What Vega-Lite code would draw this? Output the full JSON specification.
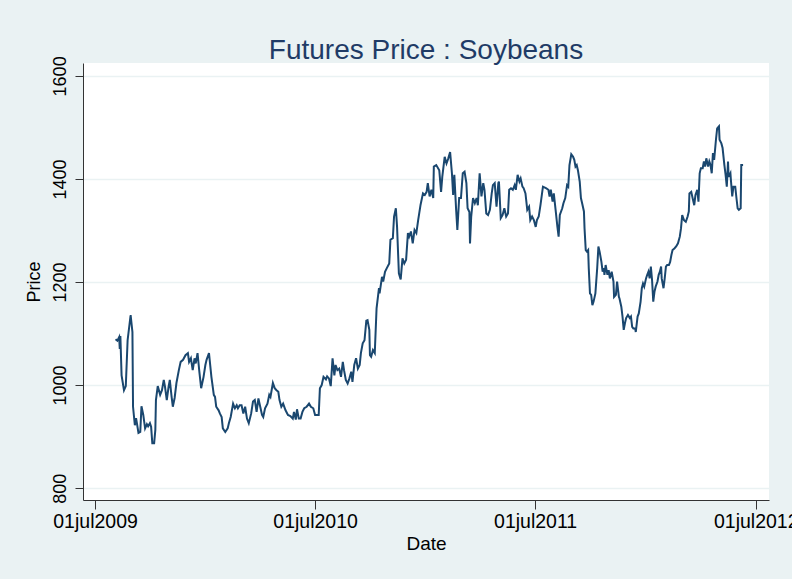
{
  "$schema": "https://vega.github.io/schema/vega-lite/v6.json",
  "width": 686,
  "height": 437,
  "autosize": {"type": "none"},
  "padding": {"left": 83, "top": 63, "right": 23, "bottom": 79},
  "background": "#EAF2F3",
  "title": {
    "text": "Futures Price : Soybeans",
    "fontSize": 28,
    "font": "Liberation Sans",
    "fontWeight": "normal",
    "color": "#1F3B66",
    "anchor": "middle",
    "baseline": "alphabetic",
    "offset": 6,
    "dy": 37
  },
  "config": {
    "view": {"fill": "white", "stroke": null},
    "axis": {"labelFont": "Liberation Sans", "titleFont": "Liberation Sans", "labelColor": "#000", "titleColor": "#000", "titleFontWeight": "normal", "domainColor": "#333", "tickColor": "#333", "domainWidth": 1, "tickWidth": 1}
  },
  "data": {"values": [
    {"date":"2009-08-04","price":1089},{"date":"2009-08-07","price":1086},{"date":"2009-08-10","price":1093},{"date":"2009-08-11","price":1070},{"date":"2009-08-12","price":1095},{"date":"2009-08-14","price":1019},{"date":"2009-08-18","price":990},{"date":"2009-08-21","price":998},{"date":"2009-08-24","price":1087},{"date":"2009-08-29","price":1136},
    {"date":"2009-09-01","price":1103},{"date":"2009-09-02","price":958},{"date":"2009-09-05","price":922},{"date":"2009-09-07","price":936},{"date":"2009-09-08","price":929},{"date":"2009-09-11","price":907},{"date":"2009-09-14","price":909},{"date":"2009-09-16","price":959},{"date":"2009-09-19","price":942},{"date":"2009-09-22","price":916},
    {"date":"2009-09-25","price":924},{"date":"2009-09-27","price":920},{"date":"2009-09-30","price":926},{"date":"2009-10-02","price":919},{"date":"2009-10-04","price":887},{"date":"2009-10-07","price":887},{"date":"2009-10-09","price":913},{"date":"2009-10-10","price":971},{"date":"2009-10-13","price":998},{"date":"2009-10-17","price":981},
    {"date":"2009-10-20","price":990},{"date":"2009-10-23","price":1010},{"date":"2009-10-25","price":997},{"date":"2009-10-28","price":971},{"date":"2009-10-31","price":997},{"date":"2009-11-02","price":1010},{"date":"2009-11-05","price":977},{"date":"2009-11-07","price":958},{"date":"2009-11-10","price":975},{"date":"2009-11-13","price":1004},
    {"date":"2009-11-17","price":1029},{"date":"2009-11-20","price":1045},{"date":"2009-11-24","price":1049},{"date":"2009-11-28","price":1058},{"date":"2009-12-02","price":1062},{"date":"2009-12-04","price":1045},{"date":"2009-12-07","price":1052},{"date":"2009-12-10","price":1029},{"date":"2009-12-13","price":1052},{"date":"2009-12-15","price":1042},
    {"date":"2009-12-18","price":1062},{"date":"2009-12-21","price":1026},{"date":"2009-12-24","price":994},{"date":"2009-12-28","price":1016},{"date":"2009-12-31","price":1039},{"date":"2010-01-02","price":1049},{"date":"2010-01-06","price":1062},{"date":"2010-01-10","price":1016},{"date":"2010-01-14","price":981},{"date":"2010-01-16","price":977},
    {"date":"2010-01-18","price":958},{"date":"2010-01-22","price":951},{"date":"2010-01-24","price":945},{"date":"2010-01-27","price":938},{"date":"2010-01-29","price":916},{"date":"2010-02-02","price":909},{"date":"2010-02-06","price":916},{"date":"2010-02-08","price":926},{"date":"2010-02-11","price":938},{"date":"2010-02-15","price":964},
    {"date":"2010-02-18","price":955},{"date":"2010-02-21","price":961},{"date":"2010-02-23","price":955},{"date":"2010-02-26","price":961},{"date":"2010-03-01","price":961},{"date":"2010-03-04","price":945},{"date":"2010-03-07","price":958},{"date":"2010-03-10","price":935},{"date":"2010-03-13","price":926},{"date":"2010-03-17","price":945},
    {"date":"2010-03-20","price":968},{"date":"2010-03-23","price":971},{"date":"2010-03-26","price":948},{"date":"2010-03-29","price":974},{"date":"2010-04-01","price":958},{"date":"2010-04-04","price":942},{"date":"2010-04-06","price":938},{"date":"2010-04-09","price":955},{"date":"2010-04-13","price":964},{"date":"2010-04-16","price":981},
    {"date":"2010-04-18","price":977},{"date":"2010-04-22","price":1004},{"date":"2010-04-25","price":994},{"date":"2010-04-28","price":990},{"date":"2010-05-01","price":987},{"date":"2010-05-03","price":971},{"date":"2010-05-06","price":958},{"date":"2010-05-09","price":964},{"date":"2010-05-13","price":951},{"date":"2010-05-17","price":942},
    {"date":"2010-05-21","price":940},{"date":"2010-05-25","price":935},{"date":"2010-05-27","price":948},{"date":"2010-05-30","price":933},{"date":"2010-06-01","price":953},{"date":"2010-06-04","price":935},{"date":"2010-06-07","price":935},{"date":"2010-06-10","price":948},{"date":"2010-06-13","price":955},{"date":"2010-06-17","price":958},
    {"date":"2010-06-21","price":964},{"date":"2010-06-24","price":958},{"date":"2010-06-28","price":955},{"date":"2010-07-01","price":942},{"date":"2010-07-04","price":942},{"date":"2010-07-07","price":942},{"date":"2010-07-09","price":994},{"date":"2010-07-12","price":1000},{"date":"2010-07-15","price":1016},{"date":"2010-07-19","price":1011},
    {"date":"2010-07-21","price":1017},{"date":"2010-07-24","price":1013},{"date":"2010-07-27","price":998},{"date":"2010-07-30","price":1052},{"date":"2010-08-02","price":1019},{"date":"2010-08-04","price":1039},{"date":"2010-08-07","price":1029},{"date":"2010-08-10","price":1032},{"date":"2010-08-13","price":1016},{"date":"2010-08-16","price":1045},
    {"date":"2010-08-18","price":1029},{"date":"2010-08-21","price":1010},{"date":"2010-08-24","price":1003},{"date":"2010-08-27","price":1013},{"date":"2010-08-30","price":1026},{"date":"2010-09-01","price":1006},{"date":"2010-09-04","price":1039},{"date":"2010-09-07","price":1052},{"date":"2010-09-10","price":1032},{"date":"2010-09-13","price":1039},
    {"date":"2010-09-15","price":1062},{"date":"2010-09-18","price":1081},{"date":"2010-09-21","price":1087},{"date":"2010-09-24","price":1125},{"date":"2010-09-26","price":1126},{"date":"2010-09-29","price":1107},{"date":"2010-09-30","price":1058},{"date":"2010-10-02","price":1055},{"date":"2010-10-05","price":1068},{"date":"2010-10-08","price":1062},
    {"date":"2010-10-11","price":1149},{"date":"2010-10-15","price":1188},{"date":"2010-10-16","price":1178},{"date":"2010-10-20","price":1210},{"date":"2010-10-22","price":1201},{"date":"2010-10-25","price":1220},{"date":"2010-10-28","price":1227},{"date":"2010-11-01","price":1236},{"date":"2010-11-03","price":1282},{"date":"2010-11-07","price":1285},
    {"date":"2010-11-09","price":1327},{"date":"2010-11-12","price":1343},{"date":"2010-11-14","price":1307},{"date":"2010-11-17","price":1217},{"date":"2010-11-20","price":1205},{"date":"2010-11-23","price":1246},{"date":"2010-11-26","price":1236},{"date":"2010-11-29","price":1243},{"date":"2010-12-02","price":1295},{"date":"2010-12-04","price":1288},
    {"date":"2010-12-07","price":1298},{"date":"2010-12-10","price":1275},{"date":"2010-12-13","price":1301},{"date":"2010-12-16","price":1295},{"date":"2010-12-19","price":1320},{"date":"2010-12-23","price":1350},{"date":"2010-12-27","price":1372},{"date":"2010-12-30","price":1369},{"date":"2011-01-02","price":1375},{"date":"2011-01-04","price":1392},
    {"date":"2011-01-07","price":1366},{"date":"2011-01-10","price":1379},{"date":"2011-01-13","price":1363},{"date":"2011-01-14","price":1424},{"date":"2011-01-18","price":1427},{"date":"2011-01-23","price":1417},{"date":"2011-01-26","price":1375},{"date":"2011-01-28","price":1404},{"date":"2011-02-01","price":1443},{"date":"2011-02-04","price":1430},
    {"date":"2011-02-07","price":1440},{"date":"2011-02-10","price":1452},{"date":"2011-02-13","price":1411},{"date":"2011-02-15","price":1369},{"date":"2011-02-17","price":1408},{"date":"2011-02-20","price":1340},{"date":"2011-02-22","price":1301},{"date":"2011-02-25","price":1363},{"date":"2011-02-28","price":1363},{"date":"2011-03-03","price":1411},
    {"date":"2011-03-06","price":1414},{"date":"2011-03-09","price":1392},{"date":"2011-03-11","price":1343},{"date":"2011-03-14","price":1336},{"date":"2011-03-15","price":1275},{"date":"2011-03-17","price":1327},{"date":"2011-03-20","price":1363},{"date":"2011-03-23","price":1353},{"date":"2011-03-26","price":1363},{"date":"2011-03-28","price":1349},
    {"date":"2011-03-31","price":1411},{"date":"2011-04-03","price":1366},{"date":"2011-04-06","price":1392},{"date":"2011-04-08","price":1379},{"date":"2011-04-11","price":1333},{"date":"2011-04-14","price":1330},{"date":"2011-04-17","price":1340},{"date":"2011-04-20","price":1372},{"date":"2011-04-22","price":1388},{"date":"2011-04-25","price":1392},
    {"date":"2011-04-28","price":1346},{"date":"2011-05-01","price":1392},{"date":"2011-05-02","price":1395},{"date":"2011-05-05","price":1324},{"date":"2011-05-08","price":1330},{"date":"2011-05-11","price":1343},{"date":"2011-05-14","price":1327},{"date":"2011-05-17","price":1333},{"date":"2011-05-19","price":1379},{"date":"2011-05-22","price":1382},
    {"date":"2011-05-25","price":1379},{"date":"2011-05-28","price":1388},{"date":"2011-05-30","price":1379},{"date":"2011-06-02","price":1408},{"date":"2011-06-05","price":1395},{"date":"2011-06-07","price":1401},{"date":"2011-06-10","price":1385},{"date":"2011-06-12","price":1382},{"date":"2011-06-15","price":1372},{"date":"2011-06-18","price":1340},
    {"date":"2011-06-21","price":1346},{"date":"2011-06-23","price":1320},{"date":"2011-06-26","price":1327},{"date":"2011-06-29","price":1320},{"date":"2011-07-02","price":1307},{"date":"2011-07-04","price":1320},{"date":"2011-07-07","price":1327},{"date":"2011-07-10","price":1350},{"date":"2011-07-14","price":1385},{"date":"2011-07-19","price":1382},
    {"date":"2011-07-23","price":1379},{"date":"2011-07-25","price":1366},{"date":"2011-07-27","price":1379},{"date":"2011-07-30","price":1356},{"date":"2011-08-01","price":1372},{"date":"2011-08-04","price":1340},{"date":"2011-08-07","price":1307},{"date":"2011-08-09","price":1288},{"date":"2011-08-11","price":1330},{"date":"2011-08-15","price":1343},
    {"date":"2011-08-17","price":1353},{"date":"2011-08-20","price":1363},{"date":"2011-08-23","price":1388},{"date":"2011-08-25","price":1385},{"date":"2011-08-27","price":1427},{"date":"2011-08-30","price":1448},{"date":"2011-09-02","price":1443},{"date":"2011-09-04","price":1437},{"date":"2011-09-06","price":1424},{"date":"2011-09-08","price":1427},
    {"date":"2011-09-10","price":1417},{"date":"2011-09-13","price":1395},{"date":"2011-09-15","price":1363},{"date":"2011-09-17","price":1353},{"date":"2011-09-20","price":1337},{"date":"2011-09-21","price":1304},{"date":"2011-09-23","price":1262},{"date":"2011-09-25","price":1259},{"date":"2011-09-27","price":1262},{"date":"2011-09-28","price":1227},
    {"date":"2011-09-30","price":1178},{"date":"2011-10-02","price":1175},{"date":"2011-10-04","price":1155},{"date":"2011-10-06","price":1162},{"date":"2011-10-09","price":1178},{"date":"2011-10-12","price":1227},{"date":"2011-10-14","price":1269},{"date":"2011-10-16","price":1259},{"date":"2011-10-19","price":1239},{"date":"2011-10-21","price":1220},
    {"date":"2011-10-23","price":1227},{"date":"2011-10-24","price":1214},{"date":"2011-10-26","price":1233},{"date":"2011-10-28","price":1220},{"date":"2011-10-29","price":1214},{"date":"2011-10-31","price":1223},{"date":"2011-11-02","price":1207},{"date":"2011-11-05","price":1220},{"date":"2011-11-08","price":1201},{"date":"2011-11-09","price":1171},
    {"date":"2011-11-12","price":1175},{"date":"2011-11-14","price":1201},{"date":"2011-11-17","price":1171},{"date":"2011-11-18","price":1168},{"date":"2011-11-21","price":1152},{"date":"2011-11-23","price":1133},{"date":"2011-11-25","price":1107},{"date":"2011-11-27","price":1120},{"date":"2011-11-29","price":1130},{"date":"2011-12-02","price":1136},
    {"date":"2011-12-05","price":1130},{"date":"2011-12-07","price":1133},{"date":"2011-12-09","price":1113},{"date":"2011-12-11","price":1110},{"date":"2011-12-14","price":1110},{"date":"2011-12-15","price":1103},{"date":"2011-12-18","price":1133},{"date":"2011-12-20","price":1139},{"date":"2011-12-23","price":1162},{"date":"2011-12-25","price":1188},
    {"date":"2011-12-27","price":1197},{"date":"2011-12-29","price":1191},{"date":"2012-01-01","price":1207},{"date":"2012-01-03","price":1214},{"date":"2012-01-05","price":1220},{"date":"2012-01-07","price":1207},{"date":"2012-01-09","price":1230},{"date":"2012-01-11","price":1204},{"date":"2012-01-13","price":1162},{"date":"2012-01-15","price":1181},
    {"date":"2012-01-17","price":1191},{"date":"2012-01-20","price":1201},{"date":"2012-01-22","price":1214},{"date":"2012-01-24","price":1220},{"date":"2012-01-26","price":1230},{"date":"2012-01-27","price":1207},{"date":"2012-01-30","price":1188},{"date":"2012-02-01","price":1207},{"date":"2012-02-03","price":1230},{"date":"2012-02-05","price":1233},
    {"date":"2012-02-08","price":1233},{"date":"2012-02-10","price":1239},{"date":"2012-02-12","price":1252},{"date":"2012-02-14","price":1262},{"date":"2012-02-17","price":1265},{"date":"2012-02-20","price":1269},{"date":"2012-02-23","price":1275},{"date":"2012-02-26","price":1288},{"date":"2012-02-28","price":1304},{"date":"2012-03-01","price":1330},
    {"date":"2012-03-04","price":1320},{"date":"2012-03-07","price":1317},{"date":"2012-03-10","price":1327},{"date":"2012-03-12","price":1337},{"date":"2012-03-13","price":1372},{"date":"2012-03-16","price":1375},{"date":"2012-03-19","price":1359},{"date":"2012-03-21","price":1349},{"date":"2012-03-23","price":1369},{"date":"2012-03-26","price":1379},
    {"date":"2012-03-28","price":1356},{"date":"2012-03-30","price":1411},{"date":"2012-04-01","price":1421},{"date":"2012-04-04","price":1421},{"date":"2012-04-06","price":1434},{"date":"2012-04-08","price":1424},{"date":"2012-04-10","price":1440},{"date":"2012-04-13","price":1424},{"date":"2012-04-15","price":1434},{"date":"2012-04-17","price":1427},
    {"date":"2012-04-19","price":1411},{"date":"2012-04-21","price":1450},{"date":"2012-04-23","price":1437},{"date":"2012-04-26","price":1476},{"date":"2012-04-28","price":1498},{"date":"2012-05-01","price":1502},{"date":"2012-05-02","price":1476},{"date":"2012-05-05","price":1469},{"date":"2012-05-07","price":1460},{"date":"2012-05-10","price":1427},
    {"date":"2012-05-12","price":1408},{"date":"2012-05-14","price":1385},{"date":"2012-05-16","price":1434},{"date":"2012-05-17","price":1404},{"date":"2012-05-20","price":1411},{"date":"2012-05-21","price":1395},{"date":"2012-05-23","price":1366},{"date":"2012-05-25","price":1385},{"date":"2012-05-28","price":1385},{"date":"2012-05-30","price":1363},
    {"date":"2012-06-01","price":1343},{"date":"2012-06-03","price":1340},{"date":"2012-06-06","price":1343},{"date":"2012-06-07","price":1427},{"date":"2012-06-10","price":1427}
  ]},
  "mark": {"type": "line", "color": "#1A476F", "strokeWidth": 2, "clip": true},
  "encoding": {
    "x": {
      "field": "date", "type": "temporal",
      "scale": {"domain": ["2009-06-11", "2012-07-23"], "nice": false},
      "axis": {
        "title": "Date", "titleFontSize": 19, "titlePadding": 4,
        "values": [{"year": 2009, "month": 7, "date": 1}, {"year": 2010, "month": 7, "date": 1}, {"year": 2011, "month": 7, "date": 1}, {"year": 2012, "month": 7, "date": 1}],
        "labelExpr": "lower(timeFormat(datum.value, '%d%b%Y'))",
        "labelFontSize": 19.5, "labelPadding": 3, "tickSize": 9, "grid": false, "labelOverlap": false, "labelFlush": false
      }
    },
    "y": {
      "field": "price", "type": "quantitative",
      "scale": {"domain": [777, 1625], "nice": false, "zero": false},
      "axis": {
        "title": "Price", "titleFontSize": 18, "titlePadding": 8, "format": "d",
        "values": [800, 1000, 1200, 1400, 1600],
        "labelAngle": 270, "labelFontSize": 18, "labelPadding": 6, "tickSize": 8,
        "grid": true, "gridColor": "#EAF2F3", "gridWidth": 1.5
      }
    }
  }
}
